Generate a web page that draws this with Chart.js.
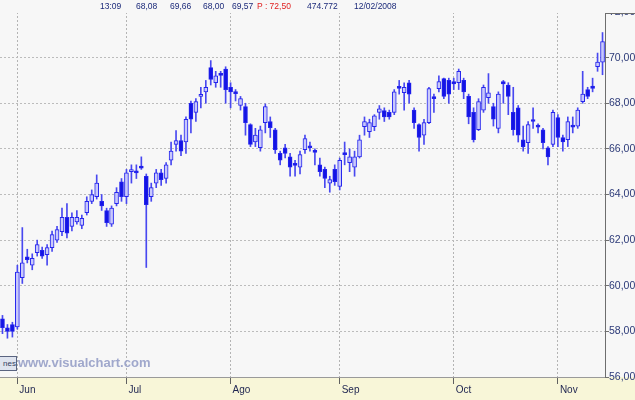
<!DOCTYPE html>
<html>
<head>
<meta charset="utf-8">
<script src="https://cdn.jsdelivr.net/npm/chart.js@4.4.1/dist/chart.umd.min.js"></script>
<style>
  html, body { margin: 0; padding: 0; background: #f7f7f7; }
  #wrap { position: relative; width: 635px; height: 400px; overflow: hidden; }
  #header { position: absolute; left: 0; top: 0; width: 635px; height: 13px; background: #f7f7f7;
            border-bottom: 0; font-family: "Liberation Sans", Arial, sans-serif; font-size: 8.5px; color: #1c2a7a; }
  #header span { position: absolute; top: 1px; white-space: nowrap; }
  #header .red { color: #e02020; }
  #axiscap { position: absolute; left: 605px; top: 13px; width: 30px; height: 1px; background: #6e6e6e; }
  #watermark { position: absolute; left: 18px; top: 355px; font-family: "Liberation Sans", Arial, sans-serif;
               font-weight: bold; font-size: 13px; color: #a0a8cc; }
  #volbox { position: absolute; left: -1px; top: 356px; width: 16px; height: 13px; border: 1px solid #5a6480;
            background: #dfe4ef; font-family: "Liberation Sans", Arial, sans-serif; font-size: 8px;
            color: #33405e; line-height: 13px; text-align: right; overflow: hidden; }
</style>
</head>
<body>
<div id="wrap">
  <canvas id="chart" width="635" height="400"></canvas>
  <div id="header">
    <span style="left:100px">13:09</span>
    <span style="left:136px">68,08</span>
    <span style="left:170px">69,66</span>
    <span style="left:203px">68,00</span>
    <span style="left:232px">69,57</span>
    <span class="red" style="left:257px">P : 72,50</span>
    <span style="left:307px">474.772</span>
    <span style="left:354px">12/02/2008</span>
  </div>
  <div id="axiscap"></div>
  <div id="volbox">nes</div>
  <div id="watermark">www.visualchart.com</div>
</div>
<script>
// month tick labels and the candle index where each month starts
const monthLabels = ['Jun', 'Jul', 'Ago', 'Sep', 'Oct', 'Nov'];
const monthStart = [3, 25, 46, 68, 91, 112];

// daily OHLC
const opens = [
  58.55, 58.15, 58.30, 58.20, 60.35, 61.27, 60.90, 61.45, 61.55, 61.36,
  61.67, 62.00, 62.37, 63.00, 62.60, 62.80, 62.65, 63.20, 63.70, 63.90,
  63.70, 63.30, 62.70, 63.60, 64.56, 63.90, 65.00, 65.00, 65.25, 64.80,
  63.90, 64.50, 64.95, 64.70, 65.50, 66.20, 66.36, 66.30, 68.00, 67.60,
  68.30, 68.50, 69.56, 68.90, 69.28, 69.50, 68.70, 68.46, 67.90, 67.85,
  67.06, 66.30, 66.05, 67.15, 67.20, 66.84, 65.80, 66.05, 65.65, 65.30,
  65.20, 65.96, 66.10, 65.90, 65.30, 65.10, 64.50, 65.10, 64.35, 65.80,
  65.40, 65.20, 65.65, 66.97, 66.75, 66.97, 67.60, 67.68, 67.60, 67.60,
  68.70, 68.46, 68.90, 67.70, 67.06, 66.60, 67.15, 68.25, 68.64, 69.08,
  69.00, 68.95, 68.90, 69.00, 68.30, 67.60, 66.84, 67.70, 68.25, 67.85,
  66.90, 68.95, 68.80, 67.60, 67.80, 66.40, 66.27, 67.24, 67.00, 66.84,
  66.05, 66.20, 67.37, 66.50, 66.40, 67.00, 67.00, 68.07, 68.60, 68.75,
  69.60, 69.80
];
const highs = [
  58.70, 58.30, 58.40, 60.90, 62.55, 61.60, 61.40, 62.00, 61.70, 61.80,
  62.40, 62.60, 63.40, 63.60, 63.20, 63.30, 63.10, 63.90, 64.20, 64.86,
  64.00, 63.40, 63.50, 64.30, 64.70, 65.10, 65.30, 65.30, 65.65, 64.90,
  64.50, 65.10, 65.10, 65.40, 66.30, 66.80, 66.60, 67.40, 68.10, 68.20,
  68.70, 69.00, 69.87, 69.40, 69.40, 69.60, 68.90, 68.60, 68.30, 68.00,
  67.10, 66.90, 67.00, 67.97, 67.40, 66.90, 65.90, 66.20, 65.80, 65.50,
  65.90, 66.60, 66.30, 66.00, 65.60, 65.20, 64.80, 65.30, 65.60, 66.30,
  66.00, 65.90, 66.60, 67.40, 67.30, 67.50, 67.90, 67.80, 67.70, 68.60,
  69.00, 68.90, 69.00, 67.80, 67.10, 67.30, 68.70, 68.40, 69.20, 69.10,
  69.10, 69.10, 69.50, 69.10, 68.40, 67.80, 68.20, 68.80, 69.30, 68.00,
  68.50, 69.00, 68.90, 68.70, 67.90, 67.00, 67.20, 67.80, 67.10, 66.90,
  66.10, 67.70, 67.50, 66.60, 67.40, 67.40, 67.80, 69.40, 68.70, 69.10,
  70.20, 71.10
];
const lows = [
  57.90, 57.70, 57.75, 58.10, 60.10, 61.00, 60.70, 61.30, 61.20, 60.90,
  61.50, 61.90, 62.20, 62.10, 62.40, 62.70, 62.50, 63.10, 63.60, 63.80,
  63.30, 62.60, 62.60, 63.50, 63.70, 63.60, 64.50, 64.70, 65.10, 60.80,
  63.70, 64.30, 64.40, 64.50, 65.30, 65.90, 65.70, 65.80, 66.70, 67.20,
  67.80, 68.00, 68.80, 68.70, 68.70, 68.00, 67.80, 68.10, 67.70, 66.60,
  66.10, 66.10, 65.90, 66.70, 66.50, 65.80, 65.30, 65.60, 64.80, 64.80,
  64.90, 65.80, 65.90, 65.30, 64.80, 64.30, 64.10, 64.40, 64.20, 65.30,
  65.00, 64.80, 65.60, 66.60, 66.50, 66.80, 67.30, 67.20, 67.30, 67.50,
  68.40, 67.70, 68.00, 66.90, 65.90, 66.20, 67.10, 67.60, 68.50, 68.20,
  68.00, 68.60, 68.60, 68.20, 67.10, 66.30, 66.80, 67.60, 68.00, 67.00,
  66.70, 68.00, 67.50, 66.60, 66.30, 65.90, 65.80, 66.90, 66.70, 66.00,
  65.30, 66.10, 66.10, 65.90, 66.10, 66.70, 66.90, 68.00, 68.20, 68.50,
  69.40, 69.25
];
const closes = [
  58.16, 58.00, 58.00, 60.60, 61.00, 61.14, 61.20, 61.80, 61.30, 61.67,
  62.24, 62.46, 63.00, 62.30, 63.00, 63.00, 62.95, 63.70, 64.00, 64.50,
  63.50, 62.76, 63.40, 64.10, 63.90, 64.95, 65.05, 64.95, 65.15, 63.55,
  64.30, 64.95, 64.65, 65.30, 65.90, 66.36, 65.90, 67.30, 67.30, 68.07,
  68.35, 68.70, 69.04, 69.20, 69.22, 68.60, 68.50, 68.42, 68.20, 67.15,
  66.20, 66.60, 66.84, 67.85, 66.93, 65.96, 65.50, 65.80, 65.20, 65.28,
  65.75, 66.45, 66.05, 65.85, 65.00, 64.70, 64.65, 64.56, 65.50, 65.75,
  65.65, 65.65, 66.40, 67.20, 67.15, 67.45, 67.76, 67.40, 67.40, 68.50,
  68.65, 68.70, 68.40, 67.15, 66.50, 67.15, 68.64, 68.20, 68.95, 68.30,
  68.40, 68.85, 69.40, 68.50, 67.40, 66.40, 68.07, 68.70, 68.46, 67.30,
  68.40, 68.85, 68.30, 66.84, 66.60, 66.10, 67.06, 67.20, 66.95, 66.27,
  65.65, 67.60, 66.50, 66.30, 67.20, 66.95, 67.70, 68.40, 68.30, 68.65,
  69.80, 70.70
];

const yTicks = [56, 58, 60, 62, 64, 66, 68, 70, 72];

const labels = opens.map((o, i) => String(i));
const isMonthStart = i => monthStart.includes(i);

const backgroundPlugin = {
  id: 'panels',
  beforeDraw(chart) {
    const { ctx, chartArea, width, height } = chart;
    ctx.save();
    ctx.fillStyle = '#f7f7f7';
    ctx.fillRect(0, 0, width, height);
    ctx.fillStyle = '#f8f6d8';
    ctx.fillRect(0, chartArea.bottom, width, height - chartArea.bottom);
    ctx.restore();
  }
};

new Chart(document.getElementById('chart'), {
  type: 'bar',
  data: {
    labels: labels,
    datasets: [
      {
        label: 'body',
        data: opens.map((o, i) => [o, closes[i]]),
        grouped: false,
        order: 0,
        barThickness: 4,
        minBarLength: 2,
        borderWidth: 1,
        borderSkipped: false,
        borderColor: '#2424ee',
        backgroundColor: ctx => closes[ctx.dataIndex] >= opens[ctx.dataIndex] ? '#c9c9fb' : '#1414e4'
      },
      {
        label: 'wick',
        data: lows.map((l, i) => [l, highs[i]]),
        grouped: false,
        order: 1,
        barThickness: 1,
        borderWidth: 0,
        backgroundColor: '#4848f0'
      }
    ]
  },
  options: {
    responsive: false,
    animation: false,
    devicePixelRatio: 1,
    layout: { padding: { left: 0, right: 0, top: 12, bottom: 0 } },
    plugins: { legend: { display: false }, tooltip: { enabled: false } },
    scales: {
      x: {
        type: 'category',
        offset: true,
        afterFit: scale => { scale.height = 23; },
        grid: {
          offset: false,
          color: ctx => isMonthStart(ctx.index) ? '#b4b4b4' : 'rgba(0,0,0,0)',
          tickColor: ctx => isMonthStart(ctx.index) ? '#606060' : 'rgba(0,0,0,0)',
          tickLength: 7,
          lineWidth: 1
        },
        border: { display: true, color: '#9a9a9a', dash: [2, 2] },
        ticks: {
          autoSkip: false,
          maxRotation: 0,
          align: 'start',
          labelOffset: 2,
          padding: 0,
          color: '#1e2450',
          font: { family: 'Liberation Sans, Arial, sans-serif', size: 10 },
          callback: (val, idx) => {
            const m = monthStart.indexOf(idx);
            return m >= 0 ? monthLabels[m] : '';
          }
        }
      },
      y: {
        position: 'right',
        min: yTicks[0],
        max: yTicks[yTicks.length - 1],
        afterFit: scale => { scale.width = 30; },
        afterBuildTicks: scale => { scale.ticks = yTicks.map(v => ({ value: v })); },
        grid: { color: '#bcbcbc', tickColor: '#707070', tickLength: 4 },
        border: { display: true, color: '#6e6e6e', dash: [2, 2] },
        ticks: {
          padding: 0,
          color: '#2c3a78',
          font: { family: 'Liberation Sans, Arial, sans-serif', size: 10.5 },
          callback: v => v.toFixed(2).replace('.', ',')
        }
      }
    }
  },
  plugins: [backgroundPlugin]
});
</script>
</body>
</html>
